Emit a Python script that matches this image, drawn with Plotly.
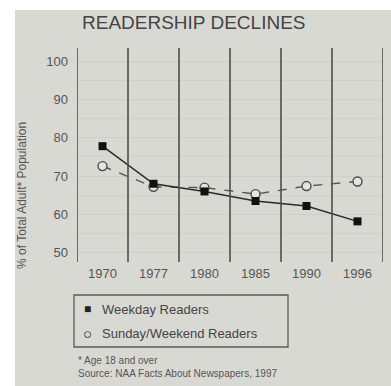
import plotly.graph_objects as go

years = ["1970", "1977", "1980", "1985", "1990", "1996"]
weekday = [77.8, 68.0, 66.0, 63.5, 62.2, 58.2]
sunday = [72.6, 67.2, 67.0, 65.3, 67.4, 68.6]
y_ticks = [50, 60, 70, 80, 90, 100]
series_names = ["Weekday Readers", "Sunday/Weekend Readers"]

FONT = "Liberation Sans Narrow, Arial Narrow, Liberation Sans, Arial, sans-serif"
BG = "#d9d9d4"
W, H = 391, 386
ML, MR, MT, MB = 77, 8, 48, 124
PW, PH = W - ML - MR, H - MT - MB

def px_x(p):
    return (p - ML) / PW

def px_y(p):
    return (H - MB - p) / PH

x = list(range(len(years)))

fig = go.Figure()
fig.add_trace(go.Scatter(
    x=x, y=sunday, mode="lines+markers", name=series_names[1],
    line=dict(color="#555555", width=1.4, dash="dash"),
    marker=dict(symbol="circle", size=9, color="#e4e4e0", line=dict(width=1.4, color="#4a4a4a")),
))
fig.add_trace(go.Scatter(
    x=x, y=weekday, mode="lines+markers", name=series_names[0],
    line=dict(color="#2a2a2a", width=1.5),
    marker=dict(symbol="square", size=8, color="#111111"),
))

shapes = [dict(type="rect", xref="paper", yref="paper",
               x0=px_x(15), x1=px_x(W + 2), y0=px_y(H + 2), y1=px_y(10),
               fillcolor=BG, line=dict(width=0), layer="below")]
for i in range(len(years) + 1):
    shapes.append(dict(type="line", xref="x", yref="paper", x0=i - 0.5, x1=i - 0.5,
                       y0=0, y1=1, line=dict(color="#4d4d4d", width=1.6)))
# key box
shapes.append(dict(type="rect", xref="paper", yref="paper",
                   x0=px_x(74), x1=px_x(288), y0=px_y(347), y1=px_y(295),
                   line=dict(color="#5a5a5a", width=1.3), fillcolor="rgba(0,0,0,0)"))

annotations = [
    dict(text="READERSHIP DECLINES", xref="paper", yref="paper",
         x=px_x(194), y=px_y(22), xanchor="center", yanchor="middle",
         showarrow=False, font=dict(size=19, color="#444444")),
    dict(text="% of Total Adult* Population", xref="paper", yref="paper",
         x=px_x(22), y=px_y(196), xanchor="center", yanchor="middle",
         textangle=-90, showarrow=False, font=dict(size=12, color="#555555")),
    dict(text="* Age 18 and over<br>Source: NAA Facts About Newspapers, 1997",
         xref="paper", yref="paper", x=px_x(76), y=px_y(353),
         xanchor="left", yanchor="top", align="left", showarrow=False,
         font=dict(size=10, color="#555555")),
]
key_symbols = ["■", "○"]
key_sizes = [12, 15]
key_rows = [309, 333]
for sym, sz, name, row in zip(key_symbols, key_sizes, series_names, key_rows):
    annotations.append(dict(text=sym, xref="paper", yref="paper",
                            x=px_x(87), y=px_y(row), xanchor="center", yanchor="middle",
                            showarrow=False, font=dict(size=sz, color="#222222")))
    annotations.append(dict(text=name, xref="paper", yref="paper",
                            x=px_x(100), y=px_y(row), xanchor="left", yanchor="middle",
                            showarrow=False, font=dict(size=13, color="#444444")))

fig.update_layout(
    width=W, height=H,
    margin=dict(l=ML, r=MR, t=MT, b=MB),
    paper_bgcolor="white", plot_bgcolor="rgba(0,0,0,0)",
    font=dict(family=FONT, color="#444444"),
    shapes=shapes,
    showlegend=False,
    xaxis=dict(range=[-0.5, len(years) - 0.5], tickvals=x, ticktext=years,
               showgrid=False, zeroline=False, showline=False, ticks="",
               tickfont=dict(size=13, color="#555555"), ticklabelstandoff=2),
    yaxis=dict(range=[47.6, 103.4], tickvals=y_ticks, showgrid=True,
               gridcolor="#cfcfca", gridwidth=1, zeroline=False, showline=False,
               minor=dict(dtick=5, showgrid=True, gridcolor="#d0d0cb", gridwidth=1),
               ticks="", tickfont=dict(size=13, color="#555555"), ticklabelstandoff=8),
    annotations=annotations,
)

fig.write_html("out.html")
